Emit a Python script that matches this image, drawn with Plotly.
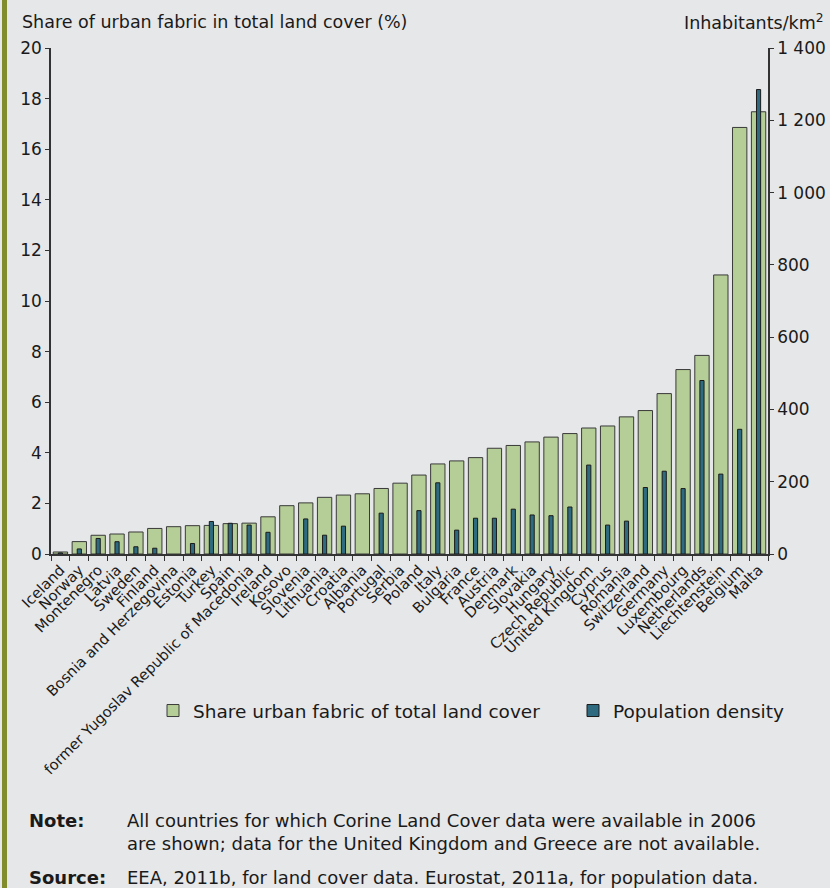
import plotly.graph_objects as go

COUNTRIES = [
    "Iceland", "Norway", "Montenegro", "Latvia", "Sweden", "Finland",
    "Bosnia and Herzegovina", "Estonia", "Turkey", "Spain",
    "former Yugoslav Republic of Macedonia", "Ireland", "Kosovo", "Slovenia",
    "Lithuania", "Croatia", "Albania", "Portugal", "Serbia", "Poland", "Italy",
    "Bulgaria", "France", "Austria", "Denmark", "Slovakia", "Hungary",
    "Czech Republic", "United Kingdom", "Cyprus", "Romania", "Switzerland",
    "Germany", "Luxembourg", "Netherlands", "Liechtenstein", "Belgium", "Malta",
]

# share of urban fabric in total land cover (%)
URBAN_SHARE = [
    0.08, 0.49, 0.74, 0.79, 0.87, 1.01, 1.08, 1.12, 1.13, 1.20,
    1.22, 1.47, 1.91, 2.02, 2.24, 2.33, 2.38, 2.59, 2.80, 3.12,
    3.56, 3.68, 3.81, 4.18, 4.29, 4.43, 4.62, 4.76, 4.98, 5.06,
    5.42, 5.67, 6.34, 7.29, 7.85, 11.03, 16.86, 17.48,
]

# inhabitants per km2 (None = no data)
POP_DENSITY = [
    3, 14, 43, 34, 20, 16, None, 29, 90, 85,
    80, 60, None, 97, 52, 77, None, 113, None, 120,
    197, 66, 99, 99, 124, 108, 106, 130, 246, 80,
    91, 184, 229, 181, 480, 221, 345, 1285,
]

GREEN = "#b5cd96"
BLUE = "#2e6b80"
BG = "#e6e7e9"
TXT = "#1a1a1a"
FONT = "DejaVu Sans, Verdana, sans-serif"

# plot area in pixels
L, R, T, B = 51, 62, 48, 334
W, H = 830, 888
PW, PH = W - L - R, H - T - B


def px_x(x):
    return (x - L) / PW


def px_y(y):
    return (H - B - y) / PH


fig = go.Figure()
fig.add_trace(go.Bar(
    x=COUNTRIES, y=URBAN_SHARE, name="Share urban fabric of total land cover",
    marker=dict(color=GREEN, line=dict(color="#3a3a3a", width=1)),
    width=0.76, yaxis="y", legend="legend",
))
fig.add_trace(go.Bar(
    x=COUNTRIES, y=POP_DENSITY, name="Population density",
    marker=dict(color=BLUE, line=dict(color="#1a1a1a", width=1)),
    width=0.22, yaxis="y2", legend="legend2",
))

axis_common = dict(
    showgrid=False, zeroline=False, showline=True, linecolor="#333333",
    linewidth=1.5, ticks="outside", ticklen=4, tickcolor="#333333",
    tickfont=dict(size=17, color=TXT, family=FONT),
)
legend_common = dict(
    orientation="h", y=px_y(711), yanchor="middle", xanchor="left",
    bgcolor="rgba(0,0,0,0)", font=dict(size=18.5, family=FONT, color=TXT),
)

fig.update_layout(
    width=W, height=H,
    paper_bgcolor=BG, plot_bgcolor=BG,
    margin=dict(l=L, r=R, t=T, b=B, autoexpand=False),
    barmode="overlay",
    font=dict(family=FONT, color=TXT),
    separators=". ",
    xaxis=dict(
        categoryorder="array", categoryarray=COUNTRIES,
        tickangle=-45, tickson="boundaries", ticks="outside", ticklen=5,
        tickcolor="#333333", showline=True, linecolor="#333333", linewidth=1.5,
        showgrid=False, tickfont=dict(size=14.7, color=TXT, family=FONT),
    ),
    yaxis=dict(range=[0, 20], dtick=2, side="left", **axis_common),
    yaxis2=dict(range=[0, 1400], dtick=200, side="right", overlaying="y",
                separatethousands=True, **axis_common),
    legend=dict(x=px_x(153), **legend_common),
    legend2=dict(x=px_x(573), **legend_common),
    showlegend=True,
)

# left olive stripe
fig.add_shape(type="rect", xref="paper", yref="paper",
              x0=px_x(2), x1=px_x(7), y0=px_y(H), y1=px_y(0),
              fillcolor="#838c2c", line=dict(width=0), layer="below")

notes = [
    dict(text="Share of urban fabric in total land cover (%)", x=20, y=22, anchor="left", size=17.5),
    dict(text="Inhabitants/km<sup>2</sup>", x=826, y=22, anchor="right", size=17.5),
    dict(text="<b>Note:</b>", x=27, y=820, anchor="left", size=18),
    dict(text="All countries for which Corine Land Cover data were available in 2006", x=125, y=820, anchor="left", size=18),
    dict(text="are shown; data for the United Kingdom and Greece are not available.", x=125, y=843, anchor="left", size=18),
    dict(text="<b>Source:</b>", x=27, y=877, anchor="left", size=18),
    dict(text="EEA, 2011b, for land cover data. Eurostat, 2011a, for population data.", x=125, y=877, anchor="left", size=18),
]
for n in notes:
    fig.add_annotation(
        text=n["text"], xref="paper", yref="paper", x=px_x(n["x"]), y=px_y(n["y"]),
        xanchor=n["anchor"], yanchor="middle", showarrow=False,
        font=dict(size=n["size"], family=FONT, color=TXT),
    )

fig.write_html(
    "out.html",
    config={"displayModeBar": False},
    post_script="document.body.style.margin='0';document.body.style.overflow='hidden';",
)
